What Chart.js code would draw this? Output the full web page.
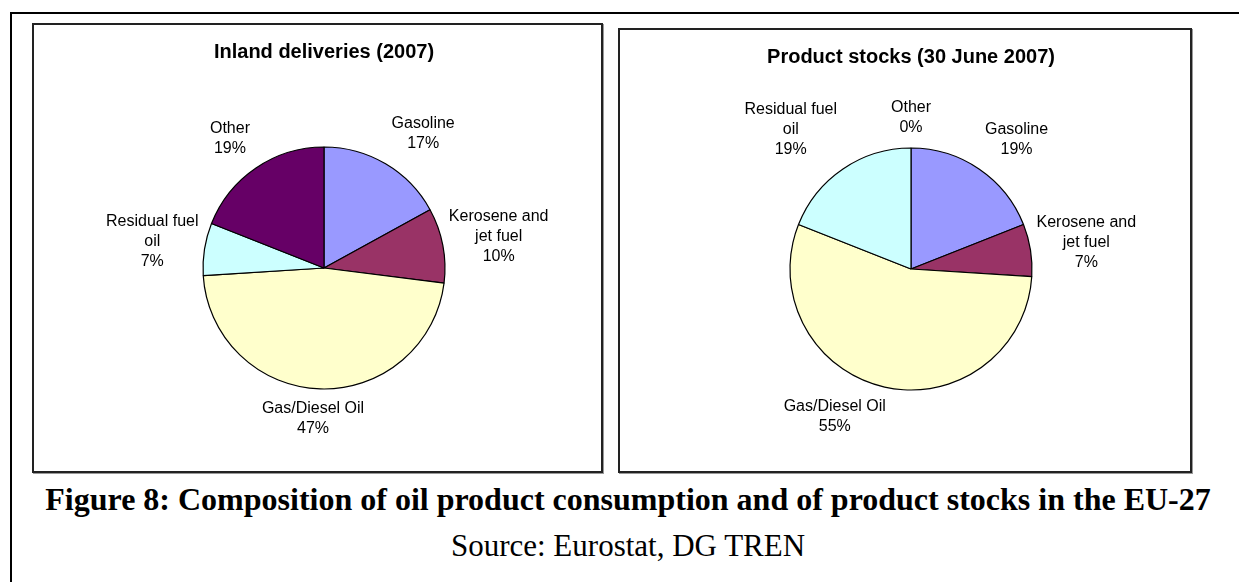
<!DOCTYPE html>
<html>
<head>
<meta charset="utf-8">
<script src="https://cdn.jsdelivr.net/npm/chart.js@4"></script>
<style>
  html, body { margin: 0; padding: 0; background: #fff; }
  body { width: 1239px; height: 582px; position: relative; overflow: hidden; }
  .frame { position: absolute; left: 10px; top: 12px; width: 1260px; height: 600px; border: 2px solid #000; box-sizing: border-box; }
  .panel { position: absolute; border: 2px solid #222; box-sizing: border-box; box-shadow: 1px 1px 0 #999; }
  .panel canvas { position: absolute; left: -2px; top: -2px; }
  .caption { position: absolute; left: 10px; width: 1236px; text-align: center; font-family: "Liberation Serif", "Times New Roman", serif; color: #000; }
  #figTitle { top: 481px; font-size: 32px; font-weight: bold; }
  #figSource { top: 528px; font-size: 31px; }
</style>
</head>
<body>
<div class="frame"></div>
<div class="panel" id="panelLeft" style="left:32px; top:23px; width:571px; height:450px;">
  <canvas id="pieLeft"></canvas>
</div>
<div class="panel" id="panelRight" style="left:618px; top:28px; width:574px; height:445px;">
  <canvas id="pieRight"></canvas>
</div>
<div class="caption" id="figTitle">Figure 8: Composition of oil product consumption and of product stocks in the EU-27</div>
<div class="caption" id="figSource">Source: Eurostat, DG TREN</div>

<script>
// Datos (porcentajes)
const categories = ['Gasoline', 'Kerosene and jet fuel', 'Gas/Diesel Oil', 'Residual fuel oil', 'Other'];
const inlandDeliveries2007 = [17, 10, 47, 7, 19];
const productStocksJune2007 = [19, 7, 55, 19, 0];
const titleLeft = 'Inland deliveries (2007)';
const titleRight = 'Product stocks (30 June 2007)';

// Colores estilo Excel
const sliceColors = ['#9999FF', '#993366', '#FFFFCC', '#CCFFFF', '#660066'];

const labelFont = '16px "Liberation Sans", Arial, sans-serif';
const labelLineHeight = 20;
const labelWrapWidth = 108;

// Parte el texto en líneas según el ancho máximo
function wrapText(ctx, text, maxWidth) {
  const words = text.split(' ');
  const lines = [];
  let line = '';
  words.forEach(w => {
    const test = line ? line + ' ' + w : w;
    if (ctx.measureText(test).width > maxWidth && line) {
      lines.push(line);
      line = w;
    } else {
      line = test;
    }
  });
  if (line) lines.push(line);
  return lines;
}

const clamp = v => Math.max(-1, Math.min(1, v));

// Etiquetas fuera del pastel (categoría + porcentaje), colocadas como en Excel
const outsideLabels = {
  id: 'outsideLabels',
  afterDatasetsDraw(chart) {
    const ctx = chart.ctx;
    const ds = chart.data.datasets[0];
    const total = ds.data.reduce((a, b) => a + b, 0);
    const meta = chart.getDatasetMeta(0);
    ctx.save();
    ctx.font = labelFont;
    ctx.fillStyle = '#000';
    ctx.textAlign = 'center';
    ctx.textBaseline = 'middle';
    meta.data.forEach((arc, i) => {
      const p = arc.getProps(['x', 'y', 'startAngle', 'endAngle', 'outerRadius'], true);
      const mid = (p.startAngle + p.endAngle) / 2;
      const dx = Math.cos(mid), dy = Math.sin(mid);
      const px = p.x + dx * p.outerRadius;
      const py = p.y + dy * p.outerRadius;
      const lines = wrapText(ctx, chart.data.labels[i], labelWrapWidth);
      lines.push(Math.round(ds.data[i] / total * 100) + '%');
      const w = Math.max(...lines.map(l => ctx.measureText(l).width));
      const h = lines.length * labelLineHeight;
      const cx = px + clamp(dx * 4) * (w / 2 + 6);
      const cy = py + clamp(dy * 1.2) * (h / 2 + 10);
      lines.forEach((l, k) => {
        ctx.fillText(l, cx, cy - h / 2 + labelLineHeight * (k + 0.5));
      });
    });
    ctx.restore();
  }
};

function makePie(canvasId, title, values, pad) {
  const canvas = document.getElementById(canvasId);
  const panel = canvas.parentElement;
  canvas.width = panel.offsetWidth;
  canvas.height = panel.offsetHeight;
  canvas.style.width = panel.offsetWidth + 'px';
  canvas.style.height = panel.offsetHeight + 'px';

  return new Chart(canvas, {
    type: 'pie',
    data: {
      labels: categories,
      datasets: [{
        data: values,
        backgroundColor: sliceColors,
        borderColor: '#000',
        borderWidth: 1.2,
        radius: 121
      }]
    },
    options: {
      responsive: false,
      maintainAspectRatio: false,
      animation: false,
      layout: { padding: pad },
      plugins: {
        legend: { display: false },
        tooltip: { enabled: false },
        title: {
          display: true,
          text: title,
          color: '#000',
          font: { family: '"Liberation Sans", Arial, sans-serif', size: 20, weight: 'bold' },
          padding: { top: 17, bottom: 20 }
        }
      }
    },
    plugins: [outsideLabels]
  });
}

document.addEventListener('DOMContentLoaded', function () {
  makePie('pieLeft', titleLeft, inlandDeliveries2007, { left: 20, right: 7, top: 0, bottom: 21 });
  makePie('pieRight', titleRight, productStocksJune2007, { left: 19, right: 7, top: 0, bottom: 24 });
});
</script>
</body>
</html>
